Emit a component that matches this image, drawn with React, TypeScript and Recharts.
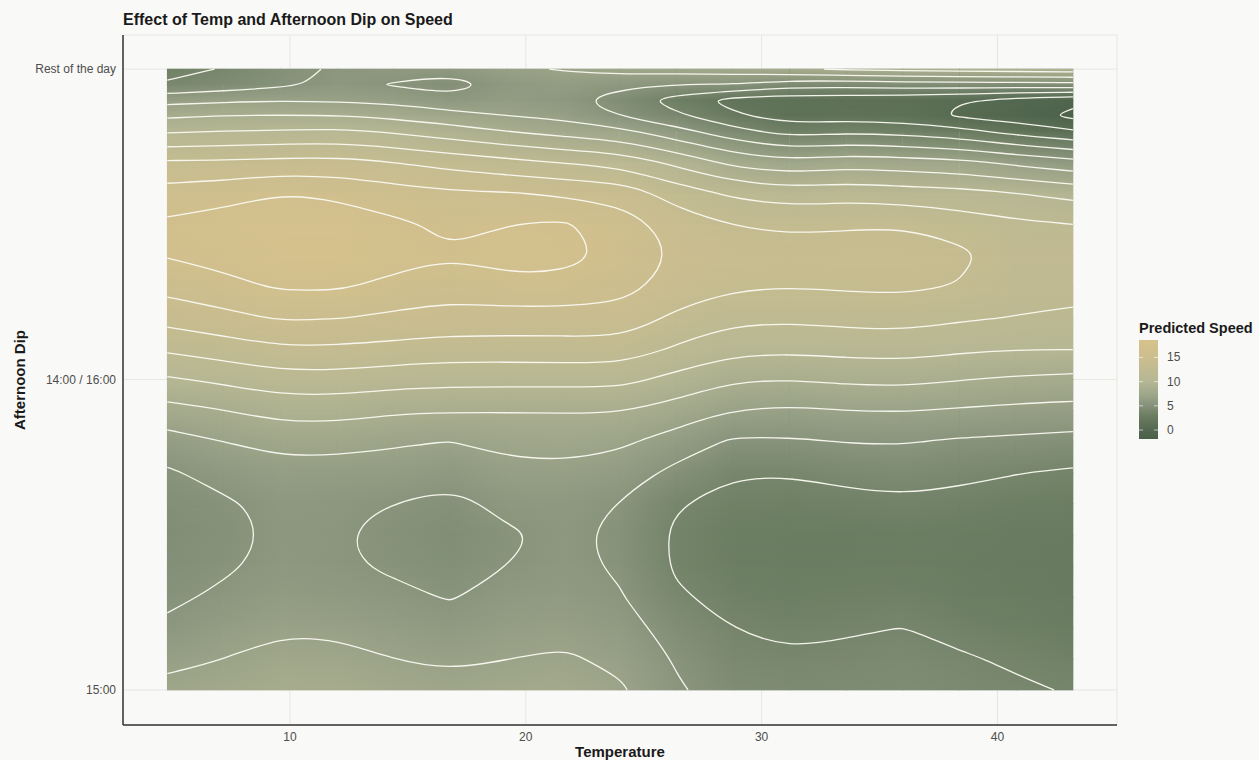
import React from 'react';
import { ScatterChart, Scatter, XAxis, YAxis, CartesianGrid, ReferenceArea, Legend } from 'recharts';

// grid of the prediction surface: temperature columns, dip rows (0 = 15:00, 1 = 14:00/16:00, 2 = rest of day)
const temperatures = [4.8, 7.2, 9.6, 12, 14.4, 16.8, 19.2, 21.6, 24, 26.4, 28.8, 31.2, 33.6, 36, 38.4, 40.8, 43.2];
const dipPositions = [0, 0.1, 0.2, 0.3, 0.4, 0.5, 0.6, 0.7, 0.8, 0.9, 1, 1.1, 1.2, 1.3, 1.4, 1.5, 1.6, 1.7, 1.8, 1.85, 1.9, 1.95, 2];
const dipLabels = ['15:00', '14:00 / 16:00', 'Rest of the day'];
const temperatureTicks = [10, 20, 30, 40];

// white contour breaks
const contourLevels = [-1, 0.6, 2.2, 3.8, 5.4, 7, 8.6, 10.2, 11.8, 13.4, 15, 16.6];

// colour bar
const legendBreaks = [0, 5, 10, 15];
const speedLimits = [-1.85, 18.6];

// predicted speed, one row per dip position (bottom to top), one value per temperature
const speedDip0_00 = [7.5, 7.85, 8.3, 8.33, 7.75, 7.5, 7.83, 8.04, 7.2, 5.6, 4.6, 4.4, 4.4, 4.6, 4.3, 4.0, 3.7];
const speedDip0_10 = [6.55, 6.98, 7.55, 7.5, 6.98, 6.72, 6.98, 7.2, 6.66, 5.23, 4.2, 3.95, 4.1, 4.3, 3.95, 3.6, 3.3];
const speedDip0_20 = [5.68, 6.34, 6.8, 6.7, 6.36, 6.0, 6.47, 6.6, 6.08, 4.7, 3.78, 3.5, 3.65, 3.82, 3.4, 3.1, 2.9];
const speedDip0_30 = [5.1, 5.66, 6.2, 6.0, 5.7, 5.3, 5.94, 6.1, 5.5, 4.0, 3.3, 3.1, 3.2, 3.3, 3.0, 2.8, 2.6];
const speedDip0_40 = [4.8, 5.2, 5.8, 5.6, 5.2, 4.85, 5.38, 5.8, 5.2, 3.6, 3.0, 2.9, 2.9, 2.95, 2.8, 2.65, 2.5];
const speedDip0_50 = [4.65, 5.0, 5.65, 5.5, 5.05, 4.7, 5.2, 5.7, 5.1, 3.55, 3.0, 2.9, 2.9, 2.95, 2.9, 2.7, 2.6];
const speedDip0_60 = [4.8, 5.2, 5.8, 5.7, 5.35, 5.0, 5.78, 5.85, 5.35, 3.85, 3.3, 3.2, 3.3, 3.5, 3.3, 3.1, 3.0];
const speedDip0_70 = [5.2, 5.93, 6.4, 6.3, 6.29, 5.91, 6.52, 6.6, 6.23, 4.96, 3.9, 3.9, 4.28, 4.47, 4.18, 3.85, 3.6];
const speedDip0_80 = [6.36, 6.98, 7.53, 7.53, 7.2, 6.97, 7.44, 7.63, 7.27, 6.31, 5.17, 5.2, 5.45, 5.5, 5.2, 5.06, 4.88];
const speedDip0_90 = [8.05, 8.55, 9.18, 9.18, 8.8, 8.72, 8.68, 8.7, 8.7, 7.93, 6.88, 6.74, 7.02, 7.05, 6.85, 6.61, 6.49];
const speedDip1_00 = [10.0, 10.53, 11.16, 11.16, 10.84, 10.67, 10.67, 10.67, 10.67, 9.71, 8.73, 8.62, 8.9, 9.01, 8.66, 8.37, 8.21];
const speedDip1_10 = [12.09, 12.63, 13.23, 13.18, 12.95, 12.69, 12.69, 12.73, 12.81, 11.6, 10.67, 10.55, 10.74, 10.86, 10.48, 10.28, 10.28];
const speedDip1_20 = [14.0, 14.56, 15.19, 15.09, 14.71, 14.45, 14.41, 14.37, 14.38, 13.1, 12.19, 12.09, 12.32, 12.43, 12.02, 11.75, 11.55];
const speedDip1_30 = [15.52, 16.1, 16.8, 16.8, 16.14, 15.61, 16.08, 16.13, 15.6, 14.3, 13.6, 13.45, 13.6, 13.7, 13.3, 12.4, 12.3];
const speedDip1_40 = [16.7, 17.2, 17.9, 18.0, 17.3, 16.7, 17.3, 17.1, 16.2, 14.8, 14.2, 14.1, 14.2, 14.2, 13.8, 12.5, 12.5];
const speedDip1_50 = [16.9, 17.3, 17.9, 17.7, 16.9, 16.3, 16.65, 16.8, 15.8, 14.3, 13.35, 13.09, 13.2, 13.3, 12.67, 12.1, 11.8];
const speedDip1_60 = [15.67, 15.98, 16.62, 16.24, 15.68, 15.23, 15.11, 14.75, 14.4, 12.65, 11.52, 10.97, 11.23, 10.93, 10.75, 10.22, 9.72];
const speedDip1_70 = [13.6, 13.62, 13.85, 13.92, 13.42, 12.78, 12.25, 11.7, 11.25, 9.77, 8.13, 7.39, 7.96, 7.64, 7.39, 6.6, 5.91];
const speedDip1_80 = [10.0, 10.22, 10.33, 10.44, 9.98, 9.3, 8.58, 7.97, 7.38, 5.95, 4.35, 3.15, 3.52, 3.23, 2.7, 1.58, 0.78];
const speedDip1_85 = [8.33, 8.62, 8.67, 8.67, 8.21, 7.6, 7.02, 6.6, 5.25, 4.1, 2.5, 1.4, 1.5, 1.3, 0.4, -0.2, -1.4];
const speedDip1_90 = [6.47, 6.73, 6.9, 6.78, 6.56, 5.8, 6.3, 5.8, 4.7, 3.1, 1.6, 1.3, 1.2, 1.1, 0.62, -0.1, -0.52];
const speedDip1_95 = [4.0, 4.5, 5.1, 5.83, 5.3, 4.8, 5.9, 6.3, 5.76, 5.35, 5.3, 4.4, 4.4, 4.6, 4.7, 4.7, 4.8];
const speedDip2_00 = [3.3, 3.9, 4.9, 5.6, 5.9, 5.9, 6.7, 7.1, 7.6, 7.7, 7.9, 8.3, 8.8, 9.0, 9.2, 9.3, 9.4];

const speedGrid = [
  speedDip0_00, speedDip0_10, speedDip0_20, speedDip0_30, speedDip0_40, speedDip0_50, speedDip0_60,
  speedDip0_70, speedDip0_80, speedDip0_90, speedDip1_00, speedDip1_10, speedDip1_20, speedDip1_30,
  speedDip1_40, speedDip1_50, speedDip1_60, speedDip1_70, speedDip1_80, speedDip1_85, speedDip1_90,
  speedDip1_95, speedDip2_00,
];

const BG = '#f9f9f7';
const FONT = '"Liberation Sans", Arial, Helvetica, sans-serif';

const colourStops: [number, string][] = [
  [-1.85, '#4a6049'],
  [0, '#546850'],
  [3, '#6c7e62'],
  [5, '#85917a'],
  [7, '#9ba388'],
  [10, '#b5b794'],
  [13, '#c3bb91'],
  [16, '#cfbf8e'],
  [18.6, '#d6c28c'],
];

const hexToRgb = (h: string) => [1, 3, 5].map((p) => parseInt(h.slice(p, p + 2), 16));

function speedColour(v: number) {
  if (v <= colourStops[0][0]) return colourStops[0][1];
  for (let k = 1; k < colourStops.length; k++) {
    if (v <= colourStops[k][0]) {
      const t = (v - colourStops[k - 1][0]) / (colourStops[k][0] - colourStops[k - 1][0]);
      const a = hexToRgb(colourStops[k - 1][1]);
      const b = hexToRgb(colourStops[k][1]);
      return `rgb(${a.map((c, n) => Math.round(c + t * (b[n] - c))).join(',')})`;
    }
  }
  return colourStops[colourStops.length - 1][1];
}

// one tile between four neighbouring grid points, shaded from its corner values
type Quad = { key: string; x1: number; x2: number; y1: number; y2: number; c00: string; c10: string; c01: string; c11: string };
const heatQuads: Quad[] = [];
for (let j = 0; j < dipPositions.length - 1; j++) {
  for (let i = 0; i < temperatures.length - 1; i++) {
    heatQuads.push({
      key: `${i}_${j}`,
      x1: temperatures[i],
      x2: temperatures[i + 1],
      y1: dipPositions[j],
      y2: dipPositions[j + 1],
      c00: speedColour(speedGrid[j][i]),
      c10: speedColour(speedGrid[j][i + 1]),
      c01: speedColour(speedGrid[j + 1][i]),
      c11: speedColour(speedGrid[j + 1][i + 1]),
    });
  }
}

type Pt = { x: number; y: number };
type Contour = { key: string; points: Pt[]; closed: boolean };

// marching squares on the grid above
function traceContours(level: number): Contour[] {
  const nx = temperatures.length;
  const ny = dipPositions.length;
  const val = (i: number, j: number) => speedGrid[j][i];
  const pts = new Map<string, Pt>();
  const links = new Map<string, string[]>();

  const cross = (key: string, i0: number, j0: number, i1: number, j1: number) => {
    if (!pts.has(key)) {
      const a = val(i0, j0);
      const b = val(i1, j1);
      const t = (level - a) / (b - a);
      pts.set(key, {
        x: temperatures[i0] + t * (temperatures[i1] - temperatures[i0]),
        y: dipPositions[j0] + t * (dipPositions[j1] - dipPositions[j0]),
      });
    }
    return key;
  };
  const link = (p: string, q: string) => {
    if (!links.has(p)) links.set(p, []);
    if (!links.has(q)) links.set(q, []);
    links.get(p)!.push(q);
    links.get(q)!.push(p);
  };

  for (let j = 0; j < ny - 1; j++) {
    for (let i = 0; i < nx - 1; i++) {
      const a = val(i, j) > level;
      const b = val(i + 1, j) > level;
      const c = val(i + 1, j + 1) > level;
      const d = val(i, j + 1) > level;
      const bottom = a !== b ? cross(`h${i}_${j}`, i, j, i + 1, j) : null;
      const right = b !== c ? cross(`v${i + 1}_${j}`, i + 1, j, i + 1, j + 1) : null;
      const top = d !== c ? cross(`h${i}_${j + 1}`, i, j + 1, i + 1, j + 1) : null;
      const left = a !== d ? cross(`v${i}_${j}`, i, j, i, j + 1) : null;
      const hits = [bottom, right, top, left].filter((h) => h !== null) as string[];
      if (hits.length === 2) link(hits[0], hits[1]);
      else if (hits.length === 4) {
        const centre = (val(i, j) + val(i + 1, j) + val(i + 1, j + 1) + val(i, j + 1)) / 4 > level;
        if (centre === a) {
          link(bottom!, right!);
          link(top!, left!);
        } else {
          link(left!, bottom!);
          link(right!, top!);
        }
      }
    }
  }

  const used = new Set<string>();
  const edgeId = (p: string, q: string) => (p < q ? `${p}|${q}` : `${q}|${p}`);
  const walk = (start: string) => {
    const chain = [start];
    let cur = start;
    for (;;) {
      const next = (links.get(cur) || []).find((n) => !used.has(edgeId(cur, n)));
      if (next === undefined) break;
      used.add(edgeId(cur, next));
      chain.push(next);
      cur = next;
    }
    return chain;
  };

  const out: Contour[] = [];
  links.forEach((nbrs, k) => {
    if (nbrs.length === 1 && !used.has(edgeId(k, nbrs[0]))) {
      const chain = walk(k);
      out.push({ key: `${level}_${out.length}`, points: chain.map((c) => pts.get(c)!), closed: false });
    }
  });
  links.forEach((nbrs, k) => {
    if (nbrs.some((n) => !used.has(edgeId(k, n)))) {
      const chain = walk(k);
      chain.pop();
      out.push({ key: `${level}_${out.length}`, points: chain.map((c) => pts.get(c)!), closed: true });
    }
  });
  return out;
}

const contours = contourLevels.flatMap((lv) => traceContours(lv));

// cubic b-spline through the marching-squares points (pixel space), clamped at open ends
const splineCurve = (closed: boolean) => (context: any) => {
  let raw: number[][] = [];
  return {
    areaStart() {},
    areaEnd() {},
    lineStart() {
      raw = [];
    },
    point(x: number, y: number) {
      raw.push([x, y]);
    },
    lineEnd() {
      const kept: number[][] = [];
      raw.forEach((p, k) => {
        const last = kept[kept.length - 1];
        const far = !last || Math.hypot(p[0] - last[0], p[1] - last[1]) > 9;
        if (k === raw.length - 1 && !closed) {
          if (!far && kept.length > 1) kept.pop();
          kept.push(p);
        } else if (far) kept.push(p);
      });
      if (closed && kept.length > 3) {
        const f = kept[0];
        const l = kept[kept.length - 1];
        if (Math.hypot(f[0] - l[0], f[1] - l[1]) < 9) kept.pop();
      }
      const n = kept.length;
      if (n < 2) return;
      const ctrl = closed ? kept : [kept[0], kept[0], ...kept, kept[n - 1], kept[n - 1]];
      const m = ctrl.length;
      const P = (k: number) => ctrl[((k % m) + m) % m];
      const first = closed ? 0 : 1;
      const stop = closed ? m : m - 2;
      for (let k = first; k < stop; k++) {
        const p0 = P(k - 1);
        const p1 = P(k);
        const p2 = P(k + 1);
        const p3 = P(k + 2);
        if (k === first) {
          context.moveTo((p0[0] + 4 * p1[0] + p2[0]) / 6, (p0[1] + 4 * p1[1] + p2[1]) / 6);
        }
        context.bezierCurveTo(
          (2 * p1[0] + p2[0]) / 3,
          (2 * p1[1] + p2[1]) / 3,
          (p1[0] + 2 * p2[0]) / 3,
          (p1[1] + 2 * p2[1]) / 3,
          (p1[0] + 4 * p2[0] + p3[0]) / 6,
          (p1[1] + 4 * p2[1] + p3[1]) / 6
        );
      }
      if (closed) context.closePath();
    },
  };
};
const openCurve = splineCurve(false);
const closedCurve = splineCurve(true);

const FieldDefs = () => (
  <defs>
    <linearGradient id="fadeUpGrad" x1="0" y1="1" x2="0" y2="0">
      <stop offset="0" stopColor="#ffffff" stopOpacity={0} />
      <stop offset="1" stopColor="#ffffff" stopOpacity={1} />
    </linearGradient>
    <mask id="fadeUp" maskContentUnits="objectBoundingBox">
      <rect x="0" y="0" width="1" height="1" fill="url(#fadeUpGrad)" />
    </mask>
  </defs>
);

const QuadTile = ({ p, q }: { p: any; q: Quad }) => {
  const id = `tile${q.key}`;
  const x = p.x - 0.4;
  const y = p.y - 0.4;
  const w = p.width + 0.8;
  const h = p.height + 0.8;
  return (
    <g>
      <defs>
        <linearGradient id={`${id}b`} x1="0" y1="0" x2="1" y2="0">
          <stop offset="0" stopColor={q.c00} />
          <stop offset="1" stopColor={q.c10} />
        </linearGradient>
        <linearGradient id={`${id}t`} x1="0" y1="0" x2="1" y2="0">
          <stop offset="0" stopColor={q.c01} />
          <stop offset="1" stopColor={q.c11} />
        </linearGradient>
      </defs>
      <rect x={x} y={y} width={w} height={h} fill={`url(#${id}b)`} />
      <rect x={x} y={y} width={w} height={h} fill={`url(#${id}t)`} mask="url(#fadeUp)" />
    </g>
  );
};

const NoMarker = () => <g />;

function SpeedLegend() {
  const barTop = 22;
  const barH = 99;
  const barW = 19;
  const [lo, hi] = speedLimits;
  const toY = (v: number) => barTop + ((hi - v) / (hi - lo)) * barH;
  return (
    <svg width={122} height={126} style={{ display: 'block', overflow: 'visible' }}>
      <defs>
        <linearGradient id="legendGradient" x1="0" y1="1" x2="0" y2="0">
          {colourStops.map(([v, c]) => (
            <stop key={v} offset={(v - lo) / (hi - lo)} stopColor={c} />
          ))}
        </linearGradient>
      </defs>
      <text x={0} y={14.7} fontSize={14.5} fontWeight={700} fill="#1a1a1a" fontFamily={FONT}>
        Predicted Speed
      </text>
      <rect x={0} y={barTop} width={barW} height={barH} fill="url(#legendGradient)" />
      {legendBreaks.map((v) => (
        <g key={v}>
          <line x1={0} x2={4} y1={toY(v)} y2={toY(v)} stroke="#ffffff" strokeOpacity={0.6} />
          <line x1={barW - 4} x2={barW} y1={toY(v)} y2={toY(v)} stroke="#ffffff" strokeOpacity={0.6} />
          <text x={28} y={toY(v)} dominantBaseline="central" fontSize={12} fill="#4d4d4d" fontFamily={FONT}>
            {v}
          </text>
        </g>
      ))}
    </svg>
  );
}

export default function App() {
  return (
    <div style={{ position: 'relative', width: 1259, height: 760, background: BG, fontFamily: FONT }}>
      <style>{`html,body{margin:0;padding:0;background:${BG};}`}</style>
      <div
        style={{
          position: 'absolute',
          left: 123,
          top: 11,
          fontSize: 16,
          lineHeight: '18px',
          fontWeight: 700,
          color: '#1a1a1a',
          zIndex: 2,
        }}
      >
        Effect of Temp and Afternoon Dip on Speed
      </div>
      <ScatterChart width={1259} height={760} margin={{ top: 35, right: 142, bottom: 0, left: 13 }}>
        <CartesianGrid stroke="#e6e6e3" strokeWidth={1} />
        <XAxis
          type="number"
          dataKey="x"
          domain={[2.92, 45.07]}
          ticks={temperatureTicks}
          interval={0}
          allowDataOverflow
          tickLine={false}
          axisLine={{ stroke: '#333333', strokeWidth: 1.5 }}
          tick={{ fill: '#4d4d4d', fontSize: 12 }}
          tickSize={4}
          tickMargin={3}
          height={35}
          label={{ value: 'Temperature', position: 'insideBottom', offset: 3, style: { fontWeight: 700, fontSize: 15, fill: '#1a1a1a' } }}
        />
        <YAxis
          type="number"
          dataKey="y"
          domain={[-0.113, 2.11]}
          ticks={dipLabels.map((_, k) => k)}
          interval={0}
          allowDataOverflow
          tickFormatter={(v: number) => dipLabels[Math.round(v)]}
          tickLine={false}
          axisLine={{ stroke: '#333333', strokeWidth: 1.5 }}
          tick={{ fill: '#4d4d4d', fontSize: 12 }}
          tickSize={4}
          tickMargin={3}
          width={110}
          label={{
            value: 'Afternoon Dip',
            angle: -90,
            position: 'insideLeft',
            offset: 7,
            style: { textAnchor: 'middle', fontWeight: 700, fontSize: 15, fill: '#1a1a1a' },
          }}
        />
        <ReferenceArea
          x1={temperatures[0]}
          x2={temperatures[temperatures.length - 1]}
          y1={dipPositions[0]}
          y2={dipPositions[dipPositions.length - 1]}
          shape={FieldDefs}
        />
        {heatQuads.map((q) => (
          <ReferenceArea key={q.key} x1={q.x1} x2={q.x2} y1={q.y1} y2={q.y2} shape={(p: any) => <QuadTile p={p} q={q} />} />
        ))}
        {contours.map((c) => (
          <Scatter
            key={c.key}
            data={c.points}
            line={{ stroke: '#fbfaf2', strokeWidth: 1.3, strokeOpacity: 0.95 }}
            lineType="joint"
            lineJointType={c.closed ? closedCurve : openCurve}
            shape={NoMarker}
            legendType="none"
            isAnimationActive={false}
          />
        ))}
        <Legend
          layout="vertical"
          align="center"
          verticalAlign="middle"
          content={() => <SpeedLegend />}
          wrapperStyle={{ left: 1139, top: 318, width: 122 }}
        />
      </ScatterChart>
    </div>
  );
}
